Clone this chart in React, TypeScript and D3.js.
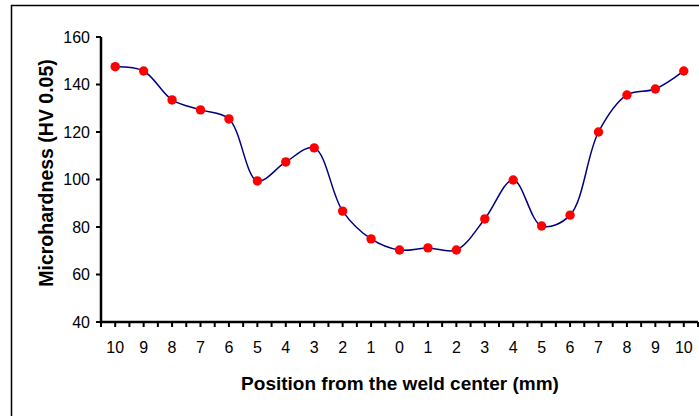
import React, { useRef, useEffect } from "react";
import * as d3 from "d3";

const positions = ["10", "9", "8", "7", "6", "5", "4", "3", "2", "1", "0", "1", "2", "3", "4", "5", "6", "7", "8", "9", "10"];
const hardness = [147.5, 145.7, 133.5, 129.3, 125.5, 99.4, 107.4, 113.3, 86.7, 75, 70.3, 71.2, 70.3, 83.4, 99.8, 80.4, 85, 120, 135.6, 138.1, 145.7];
const yTicks = [40, 60, 80, 100, 120, 140, 160];

export default function App() {
  const ref = useRef<SVGSVGElement>(null);
  const width = 699;
  const height = 416;

  useEffect(() => {
    const svg = d3.select(ref.current);
    svg.selectAll("*").remove();

    const font = "Arial, 'Liberation Sans', sans-serif";
    const left = 101, right = 698, top = 37, bottom = 322;
    const idx = positions.map((_, i) => i);

    const x = d3.scalePoint<number>().domain(idx).range([left, right]).padding(0.5);
    const y = d3.scaleLinear().domain([40, 160]).range([bottom, top]);
    const step = x.step();

    // outer frame (top and left edges only visible)
    svg.append("line").attr("x1", 11).attr("x2", 699).attr("y1", 5.5).attr("y2", 5.5)
      .attr("stroke", "#000").attr("stroke-width", 1.5);
    svg.append("line").attr("x1", 11.5).attr("x2", 11.5).attr("y1", 5).attr("y2", 416)
      .attr("stroke", "#000").attr("stroke-width", 1.5);

    // y axis
    const ya = svg.append("g");
    ya.append("line").attr("x1", left).attr("x2", left).attr("y1", top).attr("y2", bottom + 1)
      .attr("stroke", "#000").attr("stroke-width", 2.5);
    yTicks.forEach(t => {
      ya.append("line").attr("x1", left - 5).attr("x2", left).attr("y1", y(t)).attr("y2", y(t))
        .attr("stroke", "#000").attr("stroke-width", 2);
      ya.append("text").attr("x", 90).attr("y", y(t)).attr("dy", "0.36em")
        .attr("text-anchor", "end").attr("font-family", font).attr("font-size", 16)
        .text(t);
    });

    // x axis
    const xa = svg.append("g");
    xa.append("line").attr("x1", left - 1).attr("x2", right).attr("y1", bottom).attr("y2", bottom)
      .attr("stroke", "#000").attr("stroke-width", 2.5);
    for (let i = 0; i <= positions.length * 2; i++) {
      const tx = left + (i * step) / 2;
      xa.append("line").attr("x1", tx).attr("x2", tx).attr("y1", bottom).attr("y2", bottom + 5)
        .attr("stroke", "#000").attr("stroke-width", 2);
    }
    positions.forEach((p, i) => {
      xa.append("text").attr("x", x(i)!).attr("y", 353)
        .attr("text-anchor", "middle").attr("font-family", font).attr("font-size", 16)
        .text(p);
    });

    // titles
    svg.append("text").attr("x", 400).attr("y", 390).attr("text-anchor", "middle")
      .attr("font-family", font).attr("font-size", 19).attr("font-weight", "bold")
      .text("Position from the weld center (mm)");
    svg.append("text").attr("transform", "translate(53,173) rotate(-90)")
      .attr("text-anchor", "middle").attr("font-family", font).attr("font-size", 19.5).attr("font-weight", "bold")
      .text("Microhardness (HV 0.05)");

    // smoothed line
    const line = d3.line<number>()
      .x((_, i) => x(i)!)
      .y(d => y(d))
      .curve(d3.curveCatmullRom.alpha(0.5));
    svg.append("path").datum(hardness)
      .attr("fill", "none").attr("stroke", "#000080").attr("stroke-width", 1.5)
      .attr("d", line);

    svg.selectAll("circle.pt").data(hardness).enter().append("circle")
      .attr("class", "pt")
      .attr("cx", (_, i) => x(i)!)
      .attr("cy", d => y(d))
      .attr("r", 4.7)
      .attr("fill", "#ff0000");
  }, []);

  return (
    <svg ref={ref} width={width} height={height}
      style={{ position: "absolute", left: 0, top: 0, background: "#fff" }} />
  );
}
